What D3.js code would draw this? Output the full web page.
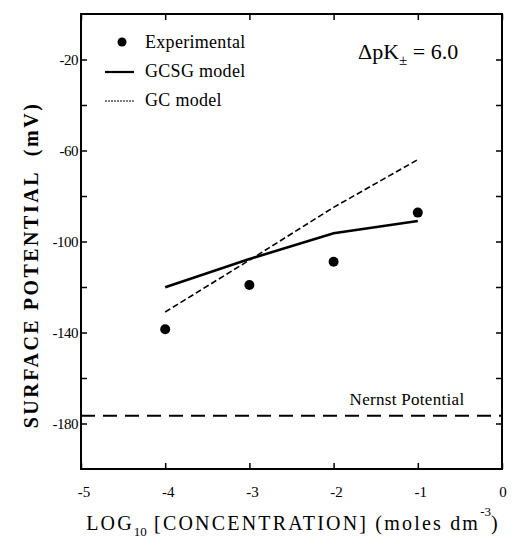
<!DOCTYPE html>
<html>
<head>
<meta charset="utf-8">
<script src="https://cdn.jsdelivr.net/npm/d3@7"></script>
<style>
  body { margin: 0; background: #fff; }
</style>
</head>
<body>
<div id="chart"></div>
<script>
// log10 concentration values
const concentrations = [-4, -3, -2, -1];
// surface potential (mV)
const experimental = [-138.6, -119.1, -108.9, -87.3];
const gcsgModel = [-120.1, -107.7, -96.4, -91.0];
const gcModel = [-131.0, -108.2, -85.0, -64.0];
const nernstPotential = -176.6;

const xTicks = [-5, -4, -3, -2, -1, 0];
const yTicksMajor = [-20, -60, -100, -140, -180];
const yTicksAll = [-180, -160, -140, -120, -100, -80, -60, -40, -20];

const width = 512;
const height = 538;
const margin = { top: 14, right: 10, bottom: 69, left: 81 };
const plotW = width - margin.left - margin.right;
const plotH = height - margin.top - margin.bottom;
const serif = "'Liberation Serif', 'DejaVu Serif', 'Times New Roman', serif";

const svg = d3
  .select("#chart")
  .append("svg")
  .attr("width", width)
  .attr("height", height)
  .style("font-family", serif);

const g = svg
  .append("g")
  .attr("transform", `translate(${margin.left},${margin.top})`);

const x = d3.scaleLinear().domain([-5, 0]).range([0, plotW]);
const y = d3.scaleLinear().domain([-200, 0]).range([plotH, 0]);

// Ticks pointing inward on all four sides
function styleAxis(sel) {
  sel.select(".domain").remove();
  sel.selectAll(".tick line").attr("stroke", "#000").attr("stroke-width", 1.5);
}

g.append("g")
  .attr("transform", `translate(0,${plotH})`)
  .call(d3.axisBottom(x).tickValues(xTicks).tickSizeInner(-6).tickSizeOuter(0).tickFormat(""))
  .call(styleAxis);

g.append("g")
  .call(d3.axisTop(x).tickValues(xTicks).tickSizeInner(-6).tickSizeOuter(0).tickFormat(""))
  .call(styleAxis);

g.append("g")
  .call(d3.axisLeft(y).tickValues(yTicksAll).tickSizeInner(-6).tickSizeOuter(0).tickFormat(""))
  .call(styleAxis);

g.append("g")
  .attr("transform", `translate(${plotW},0)`)
  .call(d3.axisRight(y).tickValues(yTicksAll).tickSizeInner(-6).tickSizeOuter(0).tickFormat(""))
  .call(styleAxis);

// frame
g.append("rect")
  .attr("width", plotW)
  .attr("height", plotH)
  .attr("fill", "none")
  .attr("stroke", "#000")
  .attr("stroke-width", 2);

// tick labels
g.selectAll(".xlab")
  .data(xTicks)
  .enter()
  .append("text")
  .attr("font-family", serif)
  .attr("x", (d) => x(d) + (d < 0 ? 3 : 1))
  .attr("y", plotH + 28)
  .attr("text-anchor", "middle")
  .attr("font-size", 15)
  .text((d) => d);

g.selectAll(".ylab")
  .data(yTicksMajor)
  .enter()
  .append("text")
  .attr("font-family", serif)
  .attr("x", -3)
  .attr("y", (d) => y(d) + 5)
  .attr("text-anchor", "end")
  .attr("font-size", 15)
  .attr("letter-spacing", -0.5)
  .text((d) => d);

// Nernst potential
g.append("line")
  .attr("x1", 0)
  .attr("x2", plotW)
  .attr("y1", y(nernstPotential))
  .attr("y2", y(nernstPotential))
  .attr("stroke", "#000")
  .attr("stroke-width", 2)
  .attr("stroke-dasharray", "14 8");

g.append("text")
  .attr("font-family", serif)
  .attr("x", x(-1.81))
  .attr("y", y(nernstPotential) - 11)
  .attr("font-size", 17)
  .attr("letter-spacing", 0.3)
  .text("Nernst Potential");

const data = concentrations.map((c, i) => ({
  c,
  exp: experimental[i],
  gcsg: gcsgModel[i],
  gc: gcModel[i],
}));

// GC model (dashed)
g.append("path")
  .datum(data)
  .attr("fill", "none")
  .attr("stroke", "#000")
  .attr("stroke-width", 1.6)
  .attr("stroke-dasharray", "6 3")
  .attr("d", d3.line().x((d) => x(d.c)).y((d) => y(d.gc)));

// GCSG model (solid)
g.append("path")
  .datum(data)
  .attr("fill", "none")
  .attr("stroke", "#000")
  .attr("stroke-width", 2.6)
  .attr("d", d3.line().x((d) => x(d.c)).y((d) => y(d.gcsg)));

// Experimental points
g.selectAll(".pt")
  .data(data)
  .enter()
  .append("circle")
  .attr("cx", (d) => x(d.c))
  .attr("cy", (d) => y(d.exp))
  .attr("r", 5)
  .attr("fill", "#000");

// legend
const legend = svg.append("g").attr("font-family", serif).attr("font-size", 18);
legend.append("circle").attr("cx", 122).attr("cy", 42).attr("r", 4.5).attr("fill", "#000");
legend.append("text").attr("x", 145).attr("y", 48).attr("letter-spacing", 0.3).text("Experimental");
legend.append("line")
  .attr("x1", 105).attr("x2", 134).attr("y1", 72).attr("y2", 72)
  .attr("stroke", "#000").attr("stroke-width", 2.2);
legend.append("text").attr("x", 145).attr("y", 77).attr("letter-spacing", 0.3).text("GCSG model");
legend.append("line")
  .attr("x1", 105).attr("x2", 134).attr("y1", 101).attr("y2", 101)
  .attr("stroke", "#000").attr("stroke-width", 1.2).attr("stroke-dasharray", "2 1");
legend.append("text").attr("x", 145).attr("y", 106).attr("letter-spacing", 0.3).text("GC model");

// delta pK annotation
const ann = svg.append("text")
  .attr("font-family", serif)
  .attr("x", 358).attr("y", 59).attr("font-size", 22);
ann.append("tspan").text("ΔpK");
ann.append("tspan").attr("dy", 6).attr("font-size", 15).text("±");
ann.append("tspan").attr("dy", -6).text(" = 6.0");

// axis titles
const xt = svg.append("text")
  .attr("font-family", serif)
  .attr("x", 293)
  .attr("y", 530)
  .attr("text-anchor", "middle")
  .attr("font-size", 20)
  .attr("letter-spacing", 2.2);
xt.append("tspan").text("LOG");
xt.append("tspan").attr("dy", 6).attr("font-size", 13).attr("letter-spacing", 0).text("10");
xt.append("tspan").attr("dy", -6).text(" [CONCENTRATION] (moles dm");
xt.append("tspan").attr("dy", -14).attr("font-size", 13).attr("letter-spacing", 0).text("-3");
xt.append("tspan").attr("dy", 14).text(")");

svg.append("text")
  .attr("font-family", serif)
  .attr("transform", `translate(38,265) rotate(-90)`)
  .attr("text-anchor", "middle")
  .attr("font-size", 20)
  .attr("font-weight", "bold")
  .attr("letter-spacing", 2.5)
  .style("white-space", "pre")
  .text("SURFACE POTENTIAL  (mV)");
</script>
</body>
</html>
